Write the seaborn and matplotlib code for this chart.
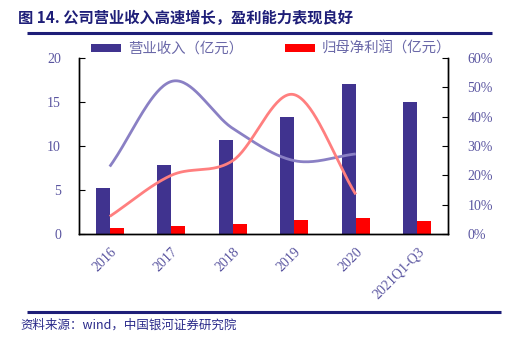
import numpy as np
import pandas as pd
import matplotlib
matplotlib.use('Agg')
import matplotlib.pyplot as plt
import seaborn as sns
from matplotlib.patches import Patch
from matplotlib.lines import Line2D
from matplotlib.ticker import FuncFormatter, MultipleLocator

categories = ['2016', '2017', '2018', '2019', '2020', '2021Q1-Q3']
revenue = [5.2, 7.8, 10.7, 13.3, 17.0, 15.0]
net_profit = [0.7, 0.9, 1.1, 1.6, 1.8, 1.5]
growth_years = ['2016', '2017', '2018', '2019', '2020']
revenue_growth = [23.0, 52.0, 36.0, 25.0, 27.3]
profit_growth = [6.0, 20.0, 25.0, 47.5, 13.5]

rev_label = '营业收入（亿元）'
np_label = '归母净利润（亿元）'

sns.set_theme(style='white')
plt.rcParams['font.family'] = ['Noto Sans CJK SC', 'DejaVu Sans']

C_BAR = '#40338F'
C_RED = '#FF0000'
C_LINE1 = '#8A80C4'
C_LINE2 = '#FF7F7F'
C_TICK = '#5A55A0'
C_NAVY = '#1E1E78'
SERIF = ['Liberation Serif', 'DejaVu Serif']

df = pd.DataFrame({
    'cat': categories * 2,
    'val': revenue + net_profit,
    'series': [rev_label] * len(categories) + [np_label] * len(categories),
})

fig = plt.figure(figsize=(5.11, 3.39), dpi=100)

ax = fig.add_axes([79 / 511, 1 - 234 / 339, (448 - 79) / 511, (234 - 58) / 339])
sns.barplot(data=df, x='cat', y='val', hue='series', order=categories,
            hue_order=[rev_label, np_label], palette=[C_BAR, C_RED],
            width=0.46, saturation=1, ax=ax, legend=False, linewidth=0)
ax.set_xlim(-0.5, len(categories) - 0.5)
ax.set_ylim(0, 20)
ax.yaxis.set_major_locator(MultipleLocator(5))
ax.set_xlabel('')
ax.set_ylabel('')
ax.set_xticks(np.arange(len(categories)))
ax.set_xticklabels(categories, rotation=45, ha='right', va='top',
                   rotation_mode='anchor', family=SERIF, fontsize=10, color=C_TICK)
ax.tick_params(axis='x', length=0, pad=8)
ax.set_xticks(np.arange(len(categories) - 1) + 0.5, minor=True)
ax.tick_params(axis='x', which='minor', direction='in', length=4, color='black', width=0.8)
ax.tick_params(axis='y', direction='in', length=4, color='black', width=0.8, pad=13,
               labelcolor=C_TICK, labelsize=10)
for t in ax.get_yticklabels():
    t.set_family(SERIF)
for s in ['left', 'bottom', 'right']:
    ax.spines[s].set_color('black')
    ax.spines[s].set_linewidth(1.0)
ax.spines['top'].set_visible(False)


def smooth(xs, ys, n=40):
    xs = np.asarray(xs, float)
    ys = np.asarray(ys, float)
    px = np.concatenate([[2 * xs[0] - xs[1]], xs, [2 * xs[-1] - xs[-2]]])
    py = np.concatenate([[2 * ys[0] - ys[1]], ys, [2 * ys[-1] - ys[-2]]])
    ox, oy = [], []
    for i in range(1, len(px) - 2):
        t = np.linspace(0, 1, n)
        p0, p1, p2, p3 = py[i - 1], py[i], py[i + 1], py[i + 2]
        yy = 0.5 * ((2 * p1) + (-p0 + p2) * t + (2 * p0 - 5 * p1 + 4 * p2 - p3) * t ** 2
                    + (-p0 + 3 * p1 - 3 * p2 + p3) * t ** 3)
        xx = px[i] + (px[i + 1] - px[i]) * t
        ox.extend(xx)
        oy.extend(yy)
    return np.array(ox), np.array(oy)


ax2 = ax.twinx()
gx = np.arange(len(growth_years))
sx, sy = smooth(gx, revenue_growth)
ax2.plot(sx, sy, color=C_LINE1, lw=2.0, solid_capstyle='butt')
sx, sy = smooth(gx, profit_growth)
ax2.plot(sx, sy, color=C_LINE2, lw=2.0, solid_capstyle='butt')
ax2.set_ylim(0, 60)
ax2.yaxis.set_major_locator(MultipleLocator(10))
ax2.yaxis.set_major_formatter(FuncFormatter(lambda v, p: f'{v:.0f}%'))
ax2.tick_params(axis='y', direction='in', length=4, color='black', width=0.8, pad=14,
                labelcolor=C_TICK, labelsize=10)
for t in ax2.get_yticklabels():
    t.set_family(SERIF)
ax2.spines['top'].set_visible(False)
for s in ['left', 'bottom', 'right']:
    ax2.spines[s].set_color('black')
    ax2.spines[s].set_linewidth(1.0)
ax2.grid(False)
ax.grid(False)

handles = [Patch(facecolor=C_BAR, edgecolor='none'), Patch(facecolor=C_RED, edgecolor='none')]
fig.legend(handles, [rev_label, np_label], loc='center', bbox_to_anchor=(271 / 511, 1 - 49 / 339),
           ncol=2, frameon=False, fontsize=10.4, handlelength=2.1, handleheight=0.45,
           columnspacing=2.9, handletextpad=0.45, labelcolor='#6A68A8')

fig.text(18 / 511, 1 - 18 / 339, '图 14. 公司营业收入高速增长，盈利能力表现良好',
         fontsize=11, fontweight='bold', color=C_NAVY, va='center', ha='left')
fig.text(20 / 511, 1 - 325 / 339, '资料来源：wind，中国银河证券研究院',
         fontsize=9, style='italic', color='#2A2A8A', va='center', ha='left')

for (x0, x1, y) in [(27, 492, 33.0), (27, 501, 311.5)]:
    fig.add_artist(Line2D([x0 / 511, x1 / 511], [1 - y / 339, 1 - y / 339],
                          transform=fig.transFigure, color=C_NAVY, lw=2.2,
                          solid_capstyle='butt', zorder=20, clip_on=False))

fig.savefig('out.png', dpi=100, facecolor='white')
